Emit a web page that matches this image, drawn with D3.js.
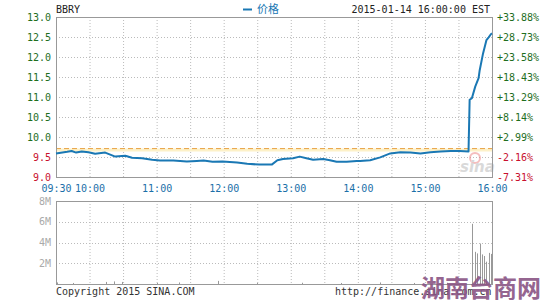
<!DOCTYPE html>
<html>
<head>
<meta charset="utf-8">
<script src="https://cdn.jsdelivr.net/npm/d3@7"></script>
<style>
  body { margin: 0; background: #fff; }
  svg { display: block; font-family: "DejaVu Sans Mono", monospace; font-size: 10px; }
</style>
</head>
<body>
<div></div>
<script>
const width = 545;
const height = 300;

// price data (time, price)
const times = ['09:30','09:40','09:44','09:48','09:53','09:59','10:05','10:14','10:23','10:32','10:38','10:47','10:56',
  '11:03','11:15','11:27','11:36','11:42','11:50','11:59','12:12','12:21','12:32','12:43','12:48','12:53','13:02','13:08',
  '13:14','13:20','13:29','13:35','13:41','13:50','13:59','14:02','14:11','14:20','14:29','14:38','14:47','14:56','15:05',
  '15:14','15:23','15:31','15:39','15:40','15:42','15:45','15:48','15:49','15:52','15:55','15:57','15:59','16:00'];
const prices = [9.59,9.63,9.65,9.61,9.64,9.62,9.58,9.61,9.51,9.53,9.48,9.47,9.43,
  9.41,9.41,9.39,9.40,9.41,9.38,9.39,9.36,9.33,9.31,9.31,9.42,9.45,9.47,9.51,
  9.47,9.43,9.45,9.42,9.38,9.38,9.40,9.40,9.42,9.49,9.59,9.62,9.61,9.59,9.62,
  9.64,9.65,9.65,9.64,10.93,10.97,11.26,11.47,11.67,12.09,12.42,12.49,12.57,12.59];

// volume data (time, shares)
const volTimes = ['09:31','09:45','10:15','10:22','10:29','11:00','11:20','11:55','12:30','13:10','13:45','14:20','14:50',
  '15:20','15:42','15:45','15:47','15:49','15:51','15:53','15:55','15:57','15:59'];
const volumes = [0.15e6,0.1e6,0.2e6,0.25e6,0.2e6,0.1e6,0.15e6,0.3e6,0.1e6,0.12e6,0.1e6,0.15e6,0.1e6,
  0.12e6,5.8e6,3.1e6,2.95e6,3.9e6,2.85e6,2.7e6,2.15e6,3.0e6,2.9e6];

const prevClose = 9.71;
const priceTicks = [13.0,12.5,12.0,11.5,11.0,10.5,10.0,9.5,9.0];
const pctLabels = ['+33.88%','+28.73%','+23.58%','+18.43%','+13.29%','+8.14%','+2.99%','-2.16%','-7.31%'];
const timeLabels = ['09:30','10:00','11:00','12:00','13:00','14:00','15:00','16:00'];
const volTicks = [8e6,6e6,4e6,2e6];

const parse = d3.timeParse('%H:%M');

const svg = d3.select('div').append('svg').attr('width', width).attr('height', height);

const left = 56, right = 492;
const x = d3.scaleTime().domain([parse('09:30'), parse('16:00')]).range([left, right]);
const y = d3.scaleLinear().domain([9, 13]).range([177, 17]);
const yv = d3.scaleLinear().domain([0, 8e6]).range([284, 201]);

const gridTimes = d3.timeMinute.every(30).range(parse('10:00'), parse('16:00'));

// grids
function grid(g, yScale, yVals) {
  g.selectAll('line.v').data(gridTimes).enter().append('line')
    .attr('x1', d => x(d) + 0.5).attr('x2', d => x(d) + 0.5)
    .attr('y1', yScale.range()[1]).attr('y2', yScale.range()[0])
    .attr('stroke', '#bbb').attr('stroke-dasharray', '1,2');
  g.selectAll('line.h').data(yVals).enter().append('line')
    .attr('x1', left).attr('x2', right)
    .attr('y1', d => Math.round(yScale(d)) + 0.5).attr('y2', d => Math.round(yScale(d)) + 0.5)
    .attr('stroke', '#bbb').attr('stroke-dasharray', '1,2');
}
grid(svg.append('g'), y, priceTicks.slice(1, -1));
grid(svg.append('g'), yv, volTicks.slice(1));

// sina logo watermark
const logo = svg.append('g').attr('opacity', 0.55);
logo.append('circle').attr('cx', 475).attr('cy', 158).attr('r', 5).attr('fill', 'none').attr('stroke', '#e88').attr('stroke-width', 2);
logo.append('text').attr('x', 460).attr('y', 172).text('sina')
  .attr('font-family', 'DejaVu Sans').attr('font-style', 'italic').attr('font-weight', 'bold')
  .attr('font-size', 15).attr('fill', '#bbb');

// previous close line
svg.append('line').attr('x1', left).attr('x2', right)
  .attr('y1', y(prevClose) + 1.5).attr('y2', y(prevClose) + 1.5)
  .attr('stroke', '#fdf1c8').attr('stroke-width', 3);
svg.append('line').attr('x1', left).attr('x2', right)
  .attr('y1', y(prevClose)).attr('y2', y(prevClose))
  .attr('stroke', '#e8a040').attr('stroke-dasharray', '5,3');

// borders
svg.append('rect').attr('x', left + 0.5).attr('y', 17.5).attr('width', right - left).attr('height', 160)
  .attr('fill', 'none').attr('stroke', '#999');
svg.append('rect').attr('x', left + 0.5).attr('y', 201.5).attr('width', right - left).attr('height', 83)
  .attr('fill', 'none').attr('stroke', '#999');

// price line
const pts = times.map((t, i) => [parse(t), prices[i]]);
svg.append('path').datum(pts)
  .attr('d', d3.line().x(d => x(d[0])).y(d => y(d[1])))
  .attr('fill', 'none').attr('stroke', '#1a78b4').attr('stroke-width', 2).attr('stroke-linejoin', 'round');

// volume bars
svg.selectAll('line.vol').data(volTimes).enter().append('line')
  .attr('x1', d => Math.round(x(parse(d))) + 0.5).attr('x2', d => Math.round(x(parse(d))) + 0.5)
  .attr('y1', yv(0)).attr('y2', (d, i) => yv(volumes[i]))
  .attr('stroke', '#999');

// axes
const yAxisL = svg.append('g').attr('transform', `translate(${left - 2},0)`)
  .call(d3.axisLeft(y).tickValues(priceTicks).tickFormat(d3.format('.1f')).tickSize(0));
yAxisL.select('.domain').remove();
yAxisL.selectAll('text').attr('fill', d => d < prevClose ? '#c8102e' : '#1e6e1e')
  .attr('font-family', 'DejaVu Sans Mono').attr('font-size', 10);

const yAxisR = svg.append('g').attr('transform', `translate(${right + 2},0)`)
  .call(d3.axisRight(y).tickValues(priceTicks).tickFormat((d, i) => pctLabels[i]).tickSize(0));
yAxisR.select('.domain').remove();
yAxisR.selectAll('text').attr('fill', d => d < prevClose ? '#c8102e' : '#1e6e1e')
  .attr('font-family', 'DejaVu Sans Mono').attr('font-size', 10);

const xAxis = svg.append('g').attr('transform', 'translate(0,182)')
  .call(d3.axisBottom(x).tickValues(timeLabels.map(parse)).tickFormat(d3.timeFormat('%H:%M')).tickSize(0));
xAxis.select('.domain').remove();
xAxis.selectAll('text').attr('fill', '#1b6fa8').attr('font-family', 'DejaVu Sans Mono').attr('font-size', 10);

const vAxis = svg.append('g').attr('transform', `translate(${left - 2},0)`)
  .call(d3.axisLeft(yv).tickValues(volTicks).tickFormat(d => d / 1e6 + 'M').tickSize(0));
vAxis.select('.domain').remove();
vAxis.selectAll('text').attr('fill', '#aaa').attr('font-family', 'DejaVu Sans Mono').attr('font-size', 10);

// header
svg.append('text').attr('x', left).attr('y', 13).text('BBRY').attr('fill', '#222');
svg.append('line').attr('x1', 243).attr('x2', 252).attr('y1', 9.5).attr('y2', 9.5)
  .attr('stroke', '#1a78b4').attr('stroke-width', 2);
svg.append('text').attr('x', 257).attr('y', 13).text('价格').attr('fill', '#1a78b4')
  .attr('font-family', 'Noto Sans CJK SC').attr('font-size', 11);
svg.append('text').attr('x', 490).attr('y', 13).attr('text-anchor', 'end')
  .text('2015-01-14 16:00:00 EST').attr('fill', '#222');

// footer
svg.append('text').attr('x', left).attr('y', 295).text('Copyright 2015 SINA.COM').attr('fill', '#333');
svg.append('text').attr('x', 335).attr('y', 295).text('http://finance.sina.com.cn').attr('fill', '#333');

// site watermark
svg.append('text').attr('x', 421).attr('y', 297).text('湖南台商网')
  .attr('font-family', 'Noto Sans CJK SC').attr('font-weight', 'bold').attr('font-size', 24)
  .attr('fill', '#8a5585').attr('opacity', 0.9);
</script>
</body>
</html>
